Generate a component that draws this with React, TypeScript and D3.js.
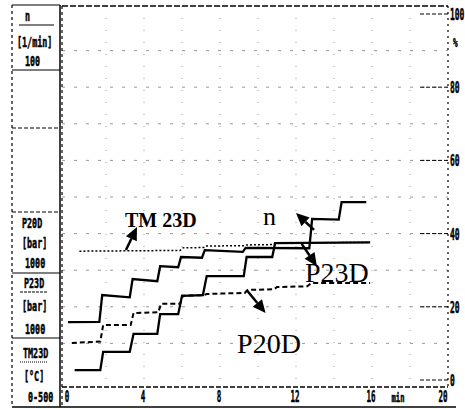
import React from 'react';
import * as d3 from 'd3';

// time axis (min) and right axis (%)
const xTicks = [0, 4, 8, 12, 16, 20];
const yTicks = [0, 20, 40, 60, 80, 100];
const xGrid = [2, 4, 6, 8, 10, 12, 14, 16, 18];
const yGrid = [10, 20, 30, 40, 50, 60, 70, 80, 90];

// series as [t (min), value (%)]
const nSeries: [number, number][] = [
  [0, 15.8], [1.65, 15.9], [1.8, 23.2], [3.25, 22.6], [3.4, 27.6], [4.7, 27.0],
  [4.85, 31.1], [5.8, 30.8], [5.95, 33.6], [7.05, 33.4], [7.2, 35.5], [9.2, 35.0],
  [9.35, 36.1], [12.7, 36.0], [12.85, 44.0], [14.25, 43.8], [14.4, 48.6], [15.7, 48.6],
];
const p23dSeries: [number, number][] = [
  [0.35, 2.7], [1.7, 2.7], [1.85, 7.7], [3.25, 7.7], [3.45, 12.6], [4.7, 12.6],
  [4.85, 18.0], [5.8, 18.0], [6.0, 23.0], [7.1, 23.2], [7.3, 28.4], [9.25, 28.4],
  [9.4, 33.6], [10.75, 33.6], [10.9, 37.4], [15.9, 37.6],
];
const p20dSeries: [number, number][] = [
  [0.2, 10.1], [1.7, 10.5], [1.85, 15.0], [3.3, 15.0], [3.45, 18.3], [4.75, 18.5],
  [4.9, 20.8], [5.9, 20.8], [6.05, 23.0], [7.15, 23.2], [7.3, 23.5], [9.3, 23.8],
  [9.45, 24.6], [10.85, 24.8], [11.0, 25.4], [12.6, 25.6], [12.8, 26.5], [15.9, 26.5],
];
const tm23dSeries: [number, number][] = [
  [0.6, 35.2], [5.9, 35.4], [6.05, 36.1], [7.15, 36.2], [7.3, 36.6], [9.25, 36.7],
  [9.4, 36.9], [10.8, 37.0], [10.95, 37.4], [15.9, 37.6],
];

// annotations in data space: label anchor, arrow tail -> tip
const labels = [
  { text: 'TM 23D', t: 3.0, v: 41.8, size: 20, bold: true },
  { text: 'n', t: 10.26, v: 42.3, size: 26, bold: false },
  { text: 'P23D', t: 12.47, v: 26.8, size: 28, bold: false },
  { text: 'P20D', t: 8.9, v: 7.4, size: 28, bold: false },
];
const arrows = [
  { from: [3.05, 35.5], to: [3.63, 41.8] },
  { from: [12.95, 41.0], to: [12.0, 45.6] },
  { from: [12.3, 37.2], to: [13.1, 31.1] },
  { from: [9.4, 24.6], to: [10.4, 18.3] },
];

// left legend boxes
const legendText = [
  { text: 'n', y: 21, x: 25 },
  { text: '[1/min]', y: 47, x: 17 },
  { text: '100', y: 66, x: 25 },
  { text: 'P20D', y: 228, x: 22 },
  { text: '[bar]', y: 248, x: 22 },
  { text: '1000', y: 268, x: 25 },
  { text: 'P23D', y: 288, x: 24 },
  { text: '[bar]', y: 311, x: 22 },
  { text: '1000', y: 334, x: 25 },
  { text: 'TM23D', y: 358, x: 23 },
  { text: '[\u00B0C]', y: 381, x: 24 },
  { text: '0-500', y: 402, x: 28 },
];
const legendLines = [70, 128, 212, 273, 338];

const W = 465;
const H = 409;
const mono = '"DejaVu Sans Mono", "Liberation Mono", monospace';
const serif = '"Liberation Serif", "DejaVu Serif", serif';

// narrow, bold, printer-like text
function Pix(props: any) {
  const { x, y, text, size = 13, sx = 0.62, anchor = 'start' } = props;
  return (
    <text transform={`translate(${x},${y}) scale(${sx},1)`} fontFamily={mono} fontWeight="bold"
      fontSize={size} textAnchor={anchor} fill="#000" stroke="#000" strokeWidth={0.5}>{text}</text>
  );
}

export default function App() {
  const x = d3.scaleLinear().domain([0, 20]).range([68, 448]);
  const y = d3.scaleLinear().domain([0, 100]).range([380, 14]);
  const line = d3.line<[number, number]>().x(d => x(d[0])).y(d => y(d[1]));

  const left = 62, right = x(20), top = 6, axisY = 387;

  const arrowHead = (a: any) => {
    const x1 = x(a.from[0]), y1 = y(a.from[1]);
    const x2 = x(a.to[0]), y2 = y(a.to[1]);
    const ang = Math.atan2(y2 - y1, x2 - x1);
    const len = 13, half = 6;
    const bx = x2 - len * Math.cos(ang), by = y2 - len * Math.sin(ang);
    const px = -Math.sin(ang) * half, py = Math.cos(ang) * half;
    return {
      shaft: `M${x1},${y1}L${bx},${by}`,
      head: `M${x2},${y2}L${bx + px},${by + py}L${bx - px},${by - py}Z`,
    };
  };

  return (
    <svg width={W} height={H} style={{ position: 'absolute', left: 0, top: 0, background: '#fff' }}>
      <rect width={W} height={H} fill="#fff" />

      {/* grid */}
      {xGrid.map(t => (
        <line key={'gx' + t} x1={x(t)} x2={x(t)} y1={top} y2={axisY}
          stroke="#999" strokeWidth={1} strokeDasharray="1 11" />
      ))}
      {yGrid.map(v => (
        <line key={'gy' + v} x1={left} x2={right} y1={y(v)} y2={y(v)}
          stroke="#999" strokeWidth={1} strokeDasharray="3 9" />
      ))}

      {/* frame */}
      <line x1={left} x2={right} y1={top} y2={top} stroke="#000" strokeWidth={1.3} strokeDasharray="6 2" />
      <line x1={left} x2={right} y1={axisY} y2={axisY} stroke="#000" strokeWidth={1.3} strokeDasharray="5 2" />
      <line x1={right} x2={right} y1={top} y2={axisY} stroke="#000" strokeWidth={1.2} strokeDasharray="2 4" />
      <line x1={left} x2={left} y1={top} y2={H - 2} stroke="#000" strokeWidth={1.2} strokeDasharray="3 3" />
      <line x1={12} x2={456} y1={H - 2} y2={H - 2} stroke="#000" strokeWidth={1.5} />

      {/* right axis */}
      {yTicks.map(v => (
        <g key={'yt' + v}>
          <line x1={right - 28} x2={right} y1={y(v)} y2={y(v)} stroke="#000" strokeWidth={1} strokeDasharray="4 2" />
          <Pix x={450} y={y(v) + 6} text={v} size={16} sx={0.5} />
        </g>
      ))}
      <Pix x={453} y={47} text="%" size={13} sx={0.6} />

      {/* x axis labels */}
      {xTicks.map(t => (
        <Pix key={'xt' + t} x={t === 0 ? 67 : t === 20 ? x(t) - 5 : x(t) - 1} y={402} text={t}
          size={15} sx={0.5} anchor="middle" />
      ))}
      <Pix x={398} y={402} text="min" size={12} sx={0.6} anchor="middle" />

      {/* left legend panel */}
      <line x1={12} x2={12} y1={5} y2={H - 2} stroke="#000" strokeWidth={1.2} strokeDasharray="3 3" />
      <line x1={60} x2={60} y1={5} y2={H - 2} stroke="#000" strokeWidth={1.5} />
      <line x1={12} x2={60} y1={5} y2={5} stroke="#000" strokeWidth={1.2} />
      <line x1={19} x2={54} y1={25} y2={25} stroke="#000" strokeWidth={1.2} />
      {legendLines.map(ly => (
        <line key={'ll' + ly} x1={12} x2={60} y1={ly} y2={ly} stroke="#000" strokeWidth={1.2}
          strokeDasharray={ly === 128 || ly === 212 ? '4 2' : undefined} />
      ))}
      <line x1={20} x2={48} y1={292} y2={292} stroke="#000" strokeWidth={1} strokeDasharray="3 1" />
      <line x1={20} x2={48} y1={362} y2={362} stroke="#000" strokeWidth={1} strokeDasharray="1 1" />
      {legendText.map((d, i) => (
        <Pix key={'lt' + i} x={d.x} y={d.y} text={d.text} size={14} sx={0.6} />
      ))}

      {/* series */}
      <path d={line(tm23dSeries) ?? ''} fill="none" stroke="#000" strokeWidth={1.5} strokeDasharray="2 2" />
      <path d={line(p20dSeries) ?? ''} fill="none" stroke="#000" strokeWidth={2} strokeDasharray="5 3" />
      <path d={line(p23dSeries) ?? ''} fill="none" stroke="#000" strokeWidth={2.3} />
      <path d={line(nSeries) ?? ''} fill="none" stroke="#000" strokeWidth={2.3} />

      {/* annotations */}
      {arrows.map((a, i) => {
        const p = arrowHead(a);
        return (
          <g key={'ar' + i}>
            <path d={p.shaft} stroke="#000" strokeWidth={2.5} />
            <path d={p.head} fill="#000" />
          </g>
        );
      })}
      {labels.map(l => (
        <text key={l.text} x={x(l.t)} y={y(l.v)} fontFamily={serif} fontSize={l.size}
          fontWeight={l.bold ? 'bold' : 'normal'}>{l.text}</text>
      ))}
    </svg>
  );
}
